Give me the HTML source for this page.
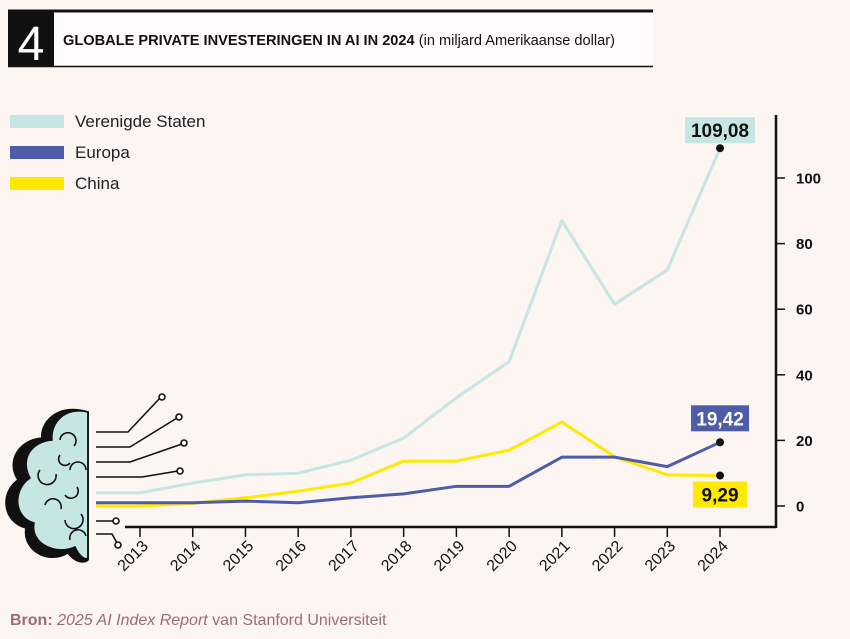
<!DOCTYPE html>
<html><head><meta charset="utf-8"><style>
body{margin:0;background:#fcf5f2;font-family:"Liberation Sans",sans-serif;}
svg{display:block}
</style></head><body>
<svg width="850" height="639" viewBox="0 0 850 639">
<rect width="850" height="639" fill="#fcf5f2"/>
<g>
<rect x="8" y="10" width="645" height="57" fill="#fffcfb"/>
<line x1="8" y1="11" x2="653" y2="11" stroke="#111" stroke-width="3"/>
<line x1="8" y1="66.5" x2="653" y2="66.5" stroke="#111" stroke-width="1.5"/>
<rect x="8" y="10" width="46" height="57" fill="#111"/>
<text x="31" y="60" text-anchor="middle" font-size="48" fill="#fff" font-weight="300">4</text>
<text x="63" y="45" font-size="14.5" fill="#111" textLength="552" lengthAdjust="spacingAndGlyphs"><tspan font-weight="bold">GLOBALE PRIVATE INVESTERINGEN IN AI IN 2024</tspan> (in miljard Amerikaanse dollar)</text>
</g>
<g>
<g><rect x="10" y="115" width="54" height="13" fill="#c6e6e3"/><text x="75" y="127" font-size="17" fill="#222">Verenigde Staten</text></g>
<g><rect x="10" y="146" width="54" height="13" fill="#4f5da8"/><text x="75" y="158" font-size="17" fill="#222">Europa</text></g>
<g><rect x="10" y="177" width="54" height="13" fill="#ffe900"/><text x="75" y="189" font-size="17" fill="#222">China</text></g>
</g>
<g stroke="#111" stroke-width="1.6" fill="none">
<path d="M88 412 C55 402 40 425 42 438 C18 440 6 462 18 480 C0 492 2 522 26 528 C22 550 48 565 68 553 C78 566 90 562 88 558 Z" fill="#111"/>
<path d="M88 412 C64 406 50 424 52 440 C30 442 20 460 30 478 C12 490 14 518 34 523 C30 543 55 556 75 547 C80 558 86 560 88 558 Z" fill="#c6e6e3"/>
<path d="M88 412 L88 558"/>
<path d="M60 440 a8 8 0 1 1 14 6 M40 470 a9 9 0 1 0 16 4 M70 470 a8 8 0 0 1 16 0 M45 505 a8 8 0 1 1 16 4 M65 520 a9 9 0 1 0 16 -6 M70 540 a8 8 0 0 1 16 -4 M65 495 a7 7 0 1 0 12 -8 M60 455 a6 6 0 1 0 10 8"/>
<path d="M96 432 H128 L160 398"/><circle cx="162" cy="397" r="3" fill="#fff"/>
<path d="M96 447 H130 L177 418"/><circle cx="179" cy="417" r="3" fill="#fff"/>
<path d="M96 462 H130 L182 444"/><circle cx="184" cy="443" r="3" fill="#fff"/>
<path d="M96 477 H142 L178 471"/><circle cx="180" cy="471" r="3" fill="#fff"/>
<path d="M96 521 H114"/><circle cx="116" cy="521" r="3" fill="#fff"/>
<path d="M96 534 H112 L117 543"/><circle cx="118" cy="545" r="3" fill="#fff"/>
</g>
<g id="axes"></g>
<g id="series"></g>
<text x="10" y="625" font-size="16" fill="#9c6a7a"><tspan font-weight="bold">Bron:</tspan> <tspan font-style="italic">2025 AI Index Report</tspan> van Stanford Universiteit</text>
</svg>
<script>
const years=[2013,2014,2015,2016,2017,2018,2019,2020,2021,2022,2023,2024];
const usValues=[4,7,9.5,10,14,20.7,33,44,87,61.5,72,109.08];
const europeValues=[1,1,1.5,1,2.5,3.7,6,6,14.9,14.9,12,19.42];
const chinaValues=[0,0.8,2.5,4.5,7,13.7,13.7,17,25.6,15,9.5,9.29];
const yTicks=[0,20,40,60,80,100];
const NS="http://www.w3.org/2000/svg";
const x=i=>140+i*52.73;
const y=v=>506-v*3.28;
function mk(tag,attrs,parent){const e=document.createElementNS(NS,tag);for(const k in attrs)e.setAttribute(k,attrs[k]);parent.appendChild(e);return e;}
const ax=document.getElementById('axes');
let l=mk('line',{x1:776,y1:115,x2:776,y2:528,stroke:'#111','stroke-width':2.5},ax);


l=mk('line',{x1:125,y1:527,x2:776,y2:527,stroke:'#111','stroke-width':2.5},ax);


yTicks.forEach(t=>{
 mk('line',{x1:776,y1:y(t),x2:785,y2:y(t),stroke:'#111','stroke-width':1.5},ax);
 const tx=mk('text',{x:796,y:y(t)+5.5,'font-size':15,'font-weight':'bold',fill:'#111'},ax);
 tx.textContent=t;
 
 
});
years.forEach((yr,i)=>{
 mk('line',{x1:x(i),y1:527,x2:x(i),y2:537,stroke:'#111','stroke-width':1.5},ax);
 const tx=mk('text',{x:x(i)+9,y:547,'font-size':16,fill:'#111','text-anchor':'end',transform:`rotate(-45 ${x(i)+9} 547)`},ax);
 tx.textContent=yr;
 
 
});
const se=document.getElementById('series');
function line(vals,color,name){
 let d=`M96 ${y(vals[0])} `+vals.map((v,i)=>`L${x(i)} ${y(v)}`).join(' ');
 const p=mk('path',{d:d,fill:'none',stroke:color,'stroke-width':3,'stroke-linejoin':'round'},se);
 
 
}
line(usValues,'#c6e6e3','line-us');
line(chinaValues,'#ffe900','line-china');
line(europeValues,'#4f5da8','line-europa');
function label(v,bg,fg,dy,name,w){
 const n=years.length-1,cx=x(n),cy=y(v);
 const r=mk('rect',{x:cx-w/2,y:cy+dy,width:w,height:26,fill:bg},se);
 
 
 const t=mk('text',{x:cx,y:cy+dy+20,'text-anchor':'middle','font-size':19,'font-weight':'bold',fill:fg},se);
 t.textContent=String(v).replace('.',',');
 
 
 const c=mk('circle',{cx:cx,cy:cy,r:4,fill:'#111'},se);
 
 
}
label(usValues[11],'#c6e6e3','#111',-31,'label-us',70);
label(europeValues[11],'#4f5da8','#fff',-37,'label-europa',58);
label(chinaValues[11],'#ffe900','#111',6,'label-china',54);
</script>
</body></html>
